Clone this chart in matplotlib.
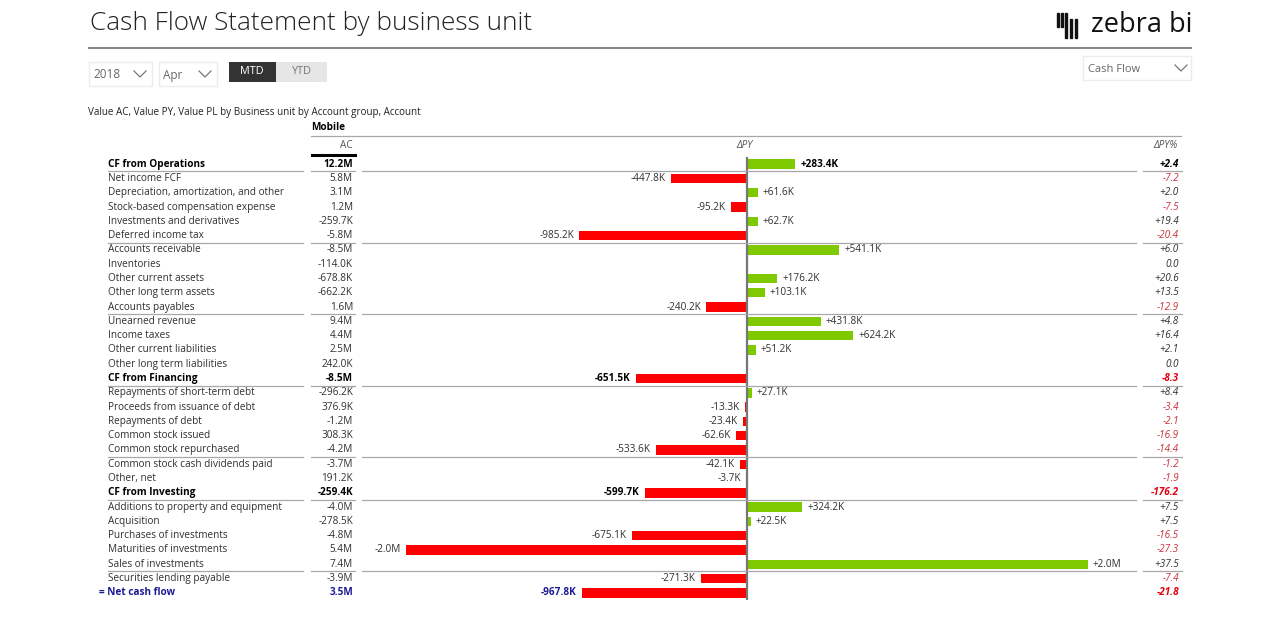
import numpy as np
import matplotlib
matplotlib.use('Agg')
import matplotlib.pyplot as plt
from matplotlib.lines import Line2D
from matplotlib.patches import Rectangle
from matplotlib.transforms import blended_transform_factory

W, H = 1280, 630
FONT = 'Open Sans'
plt.rcParams['font.family'] = [FONT, 'DejaVu Sans']
FS = 7.2

# --- data ---
ACCOUNTS = [
    'CF from Operations', 'Net income FCF', 'Depreciation, amortization, and other',
    'Stock-based compensation expense', 'Investments and derivatives', 'Deferred income tax',
    'Accounts receivable', 'Inventories', 'Other current assets', 'Other long term assets',
    'Accounts payables', 'Unearned revenue', 'Income taxes', 'Other current liabilities',
    'Other long term liabilities', 'CF from Financing', 'Repayments of short-term debt',
    'Proceeds from issuance of debt', 'Repayments of debt', 'Common stock issued',
    'Common stock repurchased', 'Common stock cash dividends paid', 'Other, net',
    'CF from Investing', 'Additions to property and equipment', 'Acquisition',
    'Purchases of investments', 'Maturities of investments', 'Sales of investments',
    'Securities lending payable', '= Net cash flow',
]
AC_LABELS = [
    '12.2M', '5.8M', '3.1M', '1.2M', '-259.7K', '-5.8M', '-8.5M', '-114.0K', '-678.8K',
    '-662.2K', '1.6M', '9.4M', '4.4M', '2.5M', '242.0K', '-8.5M', '-296.2K', '376.9K',
    '-1.2M', '308.3K', '-4.2M', '-3.7M', '191.2K', '-259.4K', '-4.0M', '-278.5K',
    '-4.8M', '5.4M', '7.4M', '-3.9M', '3.5M',
]
# delta vs previous year, in thousands
DELTA_PY = [
    283.4, -447.8, 61.6, -95.2, 62.7, -985.2, 541.1, 0.0, 176.2, 103.1, -240.2, 431.8,
    624.2, 51.2, 0.0, -651.5, 27.1, -13.3, -23.4, -62.6, -533.6, -42.1, -3.7, -599.7,
    324.2, 22.5, -675.1, -2000.0, 2000.0, -271.3, -967.8,
]
DELTA_PCT = [
    2.4, -7.2, 2.0, -7.5, 19.4, -20.4, 6.0, 0.0, 20.6, 13.5, -12.9, 4.8, 16.4, 2.1, 0.0,
    -8.3, 8.4, -3.4, -2.1, -16.9, -14.4, -1.2, -1.9, -176.2, 7.5, 7.5, -16.5, -27.3,
    37.5, -7.4, -21.8,
]
BOLD_ROWS = [0, 15, 23, 30]
SEPARATORS = [0, 5, 10, 15, 20, 23, 28]

C_POS = '#7fc900'
C_NEG = '#ff0000'
C_TXT = '#303030'
C_PCT_NEG = '#c8313c'
C_PCT_NEG_B = '#e3000f'
C_NAVY = '#1c1c94'
C_SEP = '#a8a8a8'


def fx(px):
    return px / W


def fy(py):
    return 1 - py / H


def fmt_k(v):
    if abs(v) >= 1000:
        return f'{v / 1000:+.1f}M'
    return f'{v:+.1f}K'


fig = plt.figure(figsize=(12.8, 6.3), dpi=100)
fig.patch.set_facecolor('white')

# bar area: zero axis at x=747px, ~0.1705 px per K
AX_L, AX_R, AX_T, AX_B = 362, 1136, 157, 600
ZERO_PX, PX_PER_K = 747, 0.1705
ax = fig.add_axes([fx(AX_L), fy(AX_B), fx(AX_R) - fx(AX_L), fy(AX_T) - fy(AX_B)])
ax.set_xlim((AX_L - ZERO_PX) / PX_PER_K, (AX_R - ZERO_PX) / PX_PER_K)
ax.set_ylim(len(ACCOUNTS) - 0.5, -0.5)
ax.axis('off')

rows = np.arange(len(ACCOUNTS))
vals = np.array(DELTA_PY)
colors = [C_POS if v >= 0 else C_NEG for v in vals]
ax.barh(rows, vals, height=0.66, color=colors, zorder=3)
ax.axvline(0, color='#777777', lw=1.6, zorder=4)

tr = blended_transform_factory(fig.transFigure, ax.transData)

for i, name in enumerate(ACCOUNTS):
    bold = i in BOLD_ROWS
    net = i == len(ACCOUNTS) - 1
    fw = 'bold' if bold else 'normal'
    col = C_NAVY if net else ('black' if bold else C_TXT)
    # account label
    ax.text(fx(99 if net else 108), i, name, transform=tr, ha='left', va='center',
            fontsize=FS, fontweight=fw, color=col)
    # AC value
    ax.text(fx(353), i, AC_LABELS[i], transform=tr, ha='right', va='center',
            fontsize=FS, fontweight=fw, color=col)
    # bar label
    v = DELTA_PY[i]
    if v != 0:
        off = 5 if v > 0 else -5
        ax.annotate(fmt_k(v), (v, i), xytext=(off * 0.72, 0), textcoords='offset points',
                    ha='left' if v > 0 else 'right', va='center', fontsize=FS,
                    fontweight=fw, color=col, zorder=5)
    # delta %
    p = DELTA_PCT[i]
    ptxt = '0.0' if p == 0 else f'{p:+.1f}'
    if p < 0:
        pcol = C_PCT_NEG_B if bold else C_PCT_NEG
    else:
        pcol = 'black' if bold else C_TXT
    ax.text(fx(1179), i, ptxt, transform=tr, ha='right', va='center', fontsize=FS,
            fontweight=fw, fontstyle='italic', color=pcol)

# row separators
for r in SEPARATORS:
    for x0, x1 in [(108, 303), (311, 355), (362, 1136), (1143, 1182)]:
        fig.add_artist(Line2D([fx(x0), fx(x1)], [r + 0.5, r + 0.5], transform=tr,
                              color=C_SEP, lw=0.9, zorder=2))

# column headers
fig.text(fx(311), fy(128), 'Mobile', ha='left', va='center', fontsize=FS,
         fontweight='bold', color='black')
fig.add_artist(Line2D([fx(311), fx(1181)], [fy(136), fy(136)], color=C_SEP, lw=0.9))
fig.text(fx(353), fy(145), 'AC', ha='right', va='center', fontsize=FS, color='#555555')
fig.add_artist(Line2D([fx(312), fx(355)], [fy(155), fy(155)], color='black', lw=2.2))
fig.text(fx(744), fy(145), 'ΔPY', ha='center', va='center', fontsize=FS,
         fontstyle='italic', color='#555555')
fig.text(fx(1178), fy(145), 'ΔPY%', ha='right', va='center', fontsize=FS,
         fontstyle='italic', color='#555555')

fig.text(fx(88), fy(112), 'Value AC, Value PY, Value PL by Business unit by Account group, Account',
         ha='left', va='center', fontsize=7.1, color='#222222')

# title + header rule
fig.text(fx(90), fy(24), 'Cash Flow Statement by business unit', ha='left', va='center',
         fontsize=18.8, fontweight='light', color='#222222')
fig.add_artist(Line2D([fx(89), fx(1191)], [fy(48), fy(48)], color='#8a8a8a', lw=1.5))

# logo
for x, y0, y1 in [(1057, 13, 27), (1061, 13, 27), (1065, 13, 38), (1070, 19, 38), (1075, 19, 38)]:
    fig.add_artist(Rectangle((fx(x), fy(y1)), fx(2.4), fy(y0) - fy(y1), transform=fig.transFigure,
                             color='#111111'))
fig.text(fx(1091), fy(25), 'zebra bi', ha='left', va='center', fontsize=19.5, color='#111111')


def chevron(xc, yc, color='#777777'):
    fig.add_artist(Line2D([fx(xc - 6), fx(xc), fx(xc + 6)], [fy(yc - 3), fy(yc + 3), fy(yc - 3)],
                          color=color, lw=0.9))


# slicers
for x0, x1, label in [(89, 152, '2018'), (159, 217, 'Apr')]:
    fig.add_artist(Rectangle((fx(x0), fy(86)), fx(x1) - fx(x0), fy(62) - fy(86),
                             transform=fig.transFigure, facecolor='white', edgecolor='#ececec', lw=1))
    fig.text(fx(x0 + 4), fy(75), label, ha='left', va='center', fontsize=8.5, color='#666666')
    chevron(x1 - 12, 74)

fig.add_artist(Rectangle((fx(229), fy(82)), fx(276) - fx(229), fy(62) - fy(82),
                         transform=fig.transFigure, facecolor='#333333', edgecolor='none'))
fig.text(fx(252), fy(72), 'MTD', ha='center', va='center', fontsize=7.8, color='white')
fig.add_artist(Rectangle((fx(276), fy(82)), fx(327) - fx(276), fy(62) - fy(82),
                         transform=fig.transFigure, facecolor='#e6e6e6', edgecolor='none'))
fig.text(fx(302), fy(72), 'YTD', ha='center', va='center', fontsize=7.8, color='#777777')

fig.add_artist(Rectangle((fx(1083), fy(80)), fx(1191) - fx(1083), fy(56) - fy(80),
                         transform=fig.transFigure, facecolor='white', edgecolor='#ececec', lw=1))
fig.text(fx(1088), fy(69), 'Cash Flow', ha='left', va='center', fontsize=8, color='#666666')
chevron(1181, 68)

fig.savefig('out.png', dpi=100, facecolor='white')
